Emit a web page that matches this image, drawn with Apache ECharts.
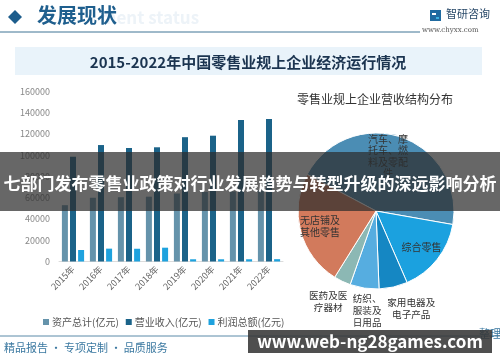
<!DOCTYPE html>
<html><head><meta charset="utf-8">
<script src="https://cdn.jsdelivr.net/npm/echarts@6/dist/echarts.min.js"></script>
<style>html,body{margin:0;padding:0;background:#fff}#c{width:500px;height:362px}</style>
</head><body><div id="c"></div>
<script>
var years = ['2015年','2016年','2017年','2018年','2019年','2020年','2021年','2022年'];
var assets = [53000, 60000, 60500, 61000, 64000, 65500, 66000, 67000];
var revenue = [98600, 109600, 106800, 107500, 117000, 118400, 133200, 134100];
var profit = [10800, 12100, 12000, 13000, 2100, 2100, 2100, 2200];
var seriesNames = ['资产总计(亿元)', '营业收入(亿元)', '利润总额(亿元)'];
var yTicks = [0, 20000, 40000, 60000, 80000, 100000, 120000, 140000, 160000];
var pieNames = ['汽车、摩\n托车、燃\n料及零配\n件', '综合零售', '家用电器及\n电子产品', '纺织、\n服装及\n日用品', '医药及医\n疗器材', '无店铺及\n其他零售'];
var pieValues = [45.0, 15.7, 5.9, 6.0, 3.5, 23.9];

var F = '"Noto Sans CJK SC","Noto Sans",sans-serif';
var chart = echarts.init(document.getElementById('c'));
var pieColors = ['#4b8db4', '#1ba1df', '#1587c3', '#56ade0', '#8cb8b4', '#d27a5c'];
var innerLabel = [true, true, false, false, false, true];
var labelPad = [[6, 14, 0, 0], [0, 0, 12, 0], [0, 0, 22, 26], [0, 0, 4, 12], [0, 9, 12, 0], [0, 0, 12, 0]];

var pieCenter = [376, 211];
var mainData = pieNames.map(function (n, i) {
  return {name: n, value: pieValues[i], itemStyle: {color: pieColors[i]}};
});
function labelData(showInner) {
  return pieNames.map(function (n, i) {
    return {name: n, value: pieValues[i], label: {show: innerLabel[i] === showInner, padding: labelPad[i]}};
  });
}
var ghost = {
  type: 'pie', center: pieCenter, startAngle: 152, clockwise: true, silent: true,
  avoidLabelOverlap: false,
  labelLayout: {hideOverlap: false},
  itemStyle: {color: 'rgba(0,0,0,0)', borderWidth: 0},
  labelLine: {show: false},
  emphasis: {disabled: true}
};

chart.setOption({
  animation: false,
  textStyle: {fontFamily: F},
  grid: {left: 59, right: 217, top: 91.5, bottom: 100.5, containLabel: false},
  legend: {
    left: 38, top: 312, itemWidth: 6, itemHeight: 6, itemGap: 7, icon: 'rect',
    data: seriesNames,
    textStyle: {fontSize: 10, color: '#555', fontFamily: F, padding: [0, 0, 0, -2]}
  },
  xAxis: {
    type: 'category', data: years,
    axisTick: {show: false},
    axisLine: {lineStyle: {color: '#dcdcdc'}},
    axisLabel: {rotate: 45, fontSize: 9, color: '#666', margin: 6, interval: 0}
  },
  yAxis: {
    type: 'value', min: yTicks[0], max: yTicks[yTicks.length - 1], interval: yTicks[1] - yTicks[0],
    splitLine: {show: false}, axisLine: {show: false}, axisTick: {show: false},
    axisLabel: {fontSize: 9, color: '#888', margin: 9, formatter: function (v) { return String(v); }}
  },
  series: [
    {name: seriesNames[0], type: 'bar', data: assets, barWidth: 6, barGap: '35%', itemStyle: {color: '#6593ab'}},
    {name: seriesNames[1], type: 'bar', data: revenue, barWidth: 6, barGap: '35%', itemStyle: {color: '#1b6389'}},
    {name: seriesNames[2], type: 'bar', data: profit, barWidth: 6, barGap: '35%', itemStyle: {color: '#1ea2de'}},
    {
      type: 'pie', center: pieCenter, radius: 78, startAngle: 152, clockwise: true,
      data: mainData,
      itemStyle: {borderColor: '#fff', borderWidth: 1},
      label: {show: false}, labelLine: {show: false}
    },
    Object.assign({}, ghost, {
      radius: [32, 78], data: labelData(true),
      label: {position: 'inside', fontSize: 10, color: '#333', lineHeight: 11.5, fontFamily: F}
    }),
    Object.assign({}, ghost, {
      radius: [84, 110], data: labelData(false),
      label: {position: 'inside', fontSize: 9.6, color: '#333', lineHeight: 12, fontFamily: F}
    })
  ],
  graphic: [
    {type: 'polygon', shape: {points: [[15, 10], [22, 17], [15, 24], [8, 17]]}, style: {fill: '#1d5d8c'}},
    {type: 'text', left: 100, top: 9, style: {text: 'ment status', fill: '#edf3f8', font: 'bold 17px ' + F}},
    {type: 'text', left: 37, top: 5, style: {text: '发展现状', fill: '#1f5f8e', font: 'bold 20px ' + F}},
    {type: 'line', shape: {x1: 0, y1: 32, x2: 420, y2: 32}, style: {stroke: '#3f7595', lineWidth: 1}},
    {type: 'rect', shape: {x: 430, y: 10, width: 11, height: 11}, style: {fill: '#1f6aa0'}},
    {type: 'rect', shape: {x: 432, y: 13, width: 4, height: 2}, style: {fill: '#fff'}},
    {type: 'rect', shape: {x: 436, y: 17, width: 3, height: 2}, style: {fill: '#3bb0e0'}},
    {type: 'text', left: 446, top: 8, style: {text: '智研咨询', fill: '#2a4a6a', font: '11px ' + F}},
    {type: 'text', left: 422, top: 27, style: {text: 'www.chyxx.com', fill: '#555', font: '7px "DejaVu Serif",serif'}},
    {type: 'rect', shape: {x: 15, y: 47, width: 467, height: 28}, style: {fill: '#e9f3fa'}, z: -10},
    {type: 'text', x: 248, y: 62, style: {text: '2015-2022年中国零售业规上企业经济运行情况', fill: '#1b3450', font: 'bold 15px ' + F, textAlign: 'center', textVerticalAlign: 'middle'}},
    {type: 'text', x: 375, y: 99, style: {text: '零售业规上企业营收结构分布', fill: '#333', font: '12px ' + F, textAlign: 'center', textVerticalAlign: 'middle'}},
    {type: 'line', shape: {x1: 0, y1: 336, x2: 500, y2: 336}, style: {stroke: '#5a8aa8', lineWidth: 1}},
    {type: 'text', left: 4, top: 342, style: {text: '精品报告 · 专项定制 · 品质服务', fill: '#3a78a0', font: '11px ' + F}},
    {type: 'text', left: 479, top: 328, style: {text: '整理', fill: '#3a78a0', font: '11px ' + F}},
    {type: 'rect', shape: {x: 0, y: 152, width: 500, height: 59}, style: {fill: 'rgba(45,45,45,0.72)'}, z: 100},
    {type: 'text', x: 250, y: 184, z: 101, style: {text: '七部门发布零售业政策对行业发展趋势与转型升级的深远影响分析', fill: '#fff', font: 'bold 17px ' + F, textAlign: 'center', textVerticalAlign: 'middle'}},
    {type: 'rect', shape: {x: 248, y: 330, width: 244, height: 23}, style: {fill: 'rgba(55,55,55,0.88)'}, z: 100},
    {type: 'text', x: 370, y: 341.5, z: 101, style: {text: 'www.web-ng28games.com', fill: '#fff', font: 'bold 17px ' + F, textAlign: 'center', textVerticalAlign: 'middle'}}
  ]
});
</script></body></html>
